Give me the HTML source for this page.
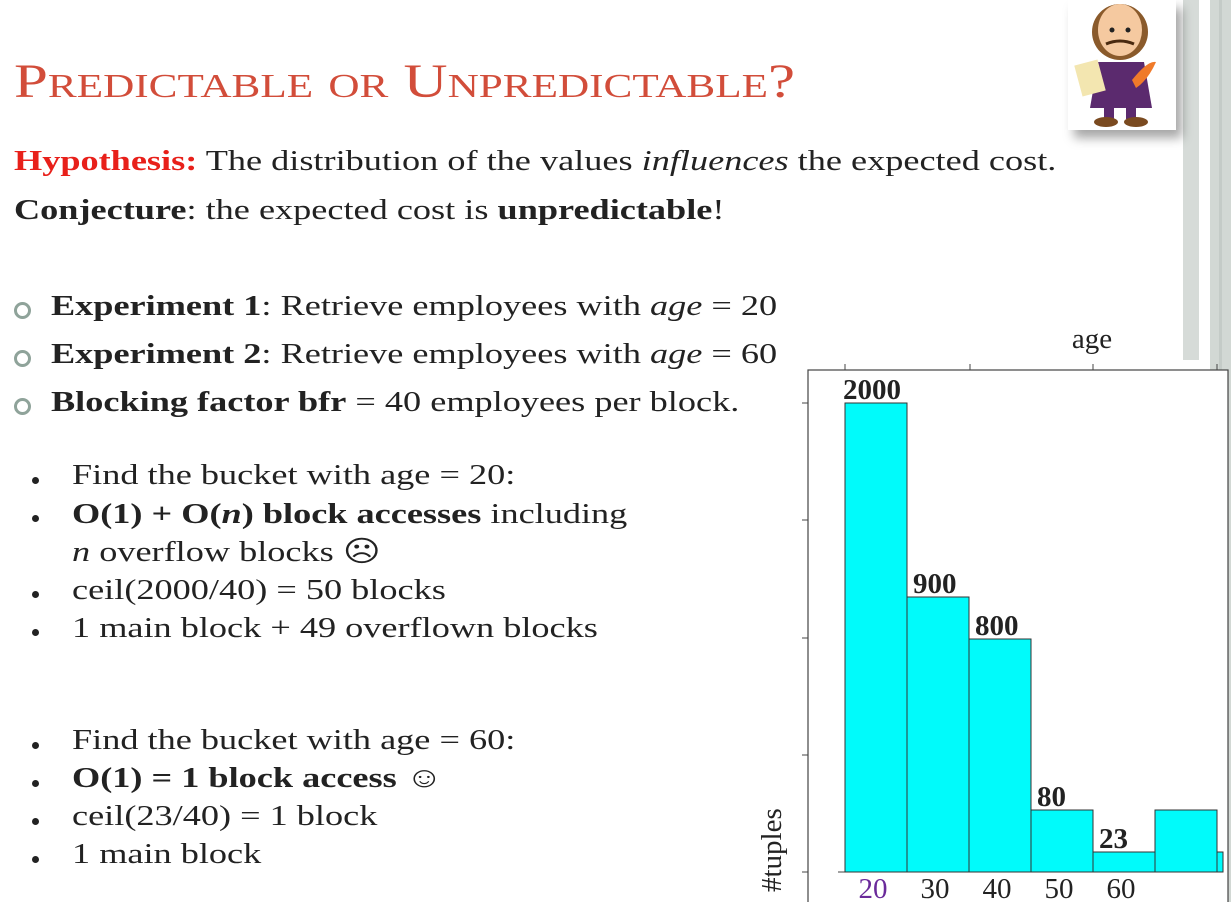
<!DOCTYPE html>
<html><head><meta charset="utf-8">
<style>
body{margin:0;width:1231px;height:902px;background:#fff;overflow:hidden;position:relative;font-family:"Liberation Serif",serif;color:#222;}
.t{position:absolute;white-space:nowrap;font-size:29px;line-height:1;transform:scaleX(1.25);transform-origin:0 0;}
.b{font-weight:bold}
.ring{position:absolute;width:11px;height:11px;border:3px solid #8fa39a;border-radius:50%;}
.dot{position:absolute;width:7px;height:7px;background:#222;border-radius:50%;}
</style></head><body>
<div style="position:absolute;left:1183px;top:0;width:16px;height:360px;background:#d6dbd8"></div>
<div style="position:absolute;left:1210px;top:0;width:21px;height:902px;background:#d2d8d4"></div>
<div style="position:absolute;left:1219px;top:0;width:3px;height:902px;background:#c4cbc7"></div>

<div style="position:absolute;left:1068px;top:0;width:108px;height:130px;background:#fff;box-shadow:6px 8px 10px rgba(0,0,0,0.35)">
<svg width="108" height="130" viewBox="0 0 108 130">
<ellipse cx="52" cy="32" rx="28" ry="28" fill="#8a5a2b"/>
<ellipse cx="52" cy="30" rx="22" ry="26" fill="#f5c9a0"/>
<circle cx="44" cy="30" r="2.5" fill="#222"/><circle cx="60" cy="30" r="2.5" fill="#222"/>
<path d="M38 44 Q52 38 66 44" stroke="#4a2a10" stroke-width="3" fill="none"/>
<path d="M30 62 L76 62 L84 108 L22 108 Z" fill="#5b2a6e"/>
<rect x="10" y="62" width="24" height="32" fill="#f3e6b0" transform="rotate(-15 22 78)"/>
<path d="M64 80 Q80 60 88 62 Q80 80 68 88Z" fill="#f07a2a"/>
<rect x="36" y="105" width="10" height="14" fill="#5b2a6e"/><rect x="58" y="105" width="10" height="14" fill="#5b2a6e"/>
<ellipse cx="38" cy="122" rx="12" ry="5" fill="#7a4a20"/><ellipse cx="68" cy="122" rx="12" ry="5" fill="#7a4a20"/>
</svg></div>

<div class="t" style="left:14px;top:58px;font-size:48px;color:#d24d3a;font-variant:small-caps;transform:scaleX(1.27);">Predictable or Unpredictable?</div>

<div class="t" style="left:14px;top:147px;"><span class="b" style="color:#e8201a">Hypothesis:</span> The distribution of the values <i>influences</i> the expected cost.</div>
<div class="t" style="left:14px;top:196px;"><span class="b">Conjecture</span>: the expected cost is <span class="b">unpredictable</span>!</div>

<div class="ring" style="left:14px;top:302px"></div>
<div class="t" style="left:51px;top:292px;"><span class="b">Experiment 1</span>: Retrieve employees with <i>age</i> = 20</div>
<div class="ring" style="left:14px;top:350px"></div>
<div class="t" style="left:51px;top:340px;"><span class="b">Experiment 2</span>: Retrieve employees with <i>age</i> = 60</div>
<div class="ring" style="left:14px;top:398px"></div>
<div class="t" style="left:51px;top:388px;"><span class="b">Blocking factor bfr</span> = 40 employees per block.</div>

<div class="dot" style="left:32px;top:477px"></div>
<div class="t" style="left:72px;top:461px;">Find the bucket with age = 20:</div>
<div class="dot" style="left:32px;top:515px"></div>
<div class="t" style="left:72px;top:500px;"><span class="b">O(1) + O(<i>n</i>) block accesses</span> including</div>
<div class="t" style="left:72px;top:538px;"><i>n</i> overflow blocks ☹</div>
<div class="dot" style="left:32px;top:591px"></div>
<div class="t" style="left:72px;top:576px;">ceil(2000/40) = 50 blocks</div>
<div class="dot" style="left:32px;top:629px"></div>
<div class="t" style="left:72px;top:614px;">1 main block + 49 overflown blocks</div>

<div class="dot" style="left:32px;top:742px"></div>
<div class="t" style="left:72px;top:726px;">Find the bucket with age = 60:</div>
<div class="dot" style="left:32px;top:780px"></div>
<div class="t" style="left:72px;top:764px;"><span class="b">O(1) = 1 block access ☺</span></div>
<div class="dot" style="left:32px;top:818px"></div>
<div class="t" style="left:72px;top:802px;">ceil(23/40) = 1 block</div>
<div class="dot" style="left:32px;top:856px"></div>
<div class="t" style="left:72px;top:840px;">1 main block</div>

<svg id="chart" style="position:absolute;left:0;top:0" width="1231" height="902"></svg>
<script>
const categories=["20","30","40","50","60",""];
const values=[2000,900,800,80,23,80];
const valueLabels=["2000","900","800","80","23",""];
const catColors=["#6a2a9a","#222","#222","#222","#222","#222"];
// piecewise scale (the original figure is not linear)
const scaleDomain=[0,23,80,800,900,2000];
const scaleRange=[872,852,810,639,597,403];
function y(v){for(let i=1;i<scaleDomain.length;i++){if(v<=scaleDomain[i]){const t=(v-scaleDomain[i-1])/(scaleDomain[i]-scaleDomain[i-1]);return scaleRange[i-1]+t*(scaleRange[i]-scaleRange[i-1]);}}return scaleRange[scaleRange.length-1];}
const x0=845,bw=62;
function x(i){return x0+i*bw;}
const svg=document.getElementById('chart');
const NS='http://www.w3.org/2000/svg';
function add(tag,attrs,text){const e=document.createElementNS(NS,tag);for(const k in attrs)e.setAttribute(k,attrs[k]);if(text!==undefined)e.textContent=text;svg.appendChild(e);return e;}
let f=add('rect',{x:808,y:370,width:420,height:540,fill:'#fff',stroke:'#444','stroke-width':1.2});


[403,520,638,755,872].forEach(v=>{let t=add('line',{x1:802,x2:808,y1:v,y2:v,stroke:'#444'});

});
[845,970,1093,1217].forEach(v=>{let t=add('line',{x1:v,x2:v,y1:364,y2:370,stroke:'#444'});

});
let bl=add('line',{x1:838,x2:1222,y1:872,y2:872,stroke:'#444'});


values.forEach((v,i)=>{
 const r=add('rect',{x:x(i),y:y(v),width:bw,height:872-y(v),fill:'#00fbfb',stroke:'#333','stroke-width':1});
 
 
 if(valueLabels[i]){const t=add('text',{x:x(i)+(i==0?-2:6),y:y(v)-4,'font-size':29,'font-weight':'bold','font-family':'Liberation Serif',fill:'#222'},valueLabels[i]);
 
 }
 if(categories[i]){const t=add('text',{x:x(i)+28,y:898,'font-size':29,'text-anchor':'middle','font-family':'Liberation Serif',fill:catColors[i]},categories[i]);
 
 }
});
let tail=add('rect',{x:1217,y:852,width:6,height:20,fill:'#00fbfb',stroke:'#333'});


let at=add('text',{x:1092,y:348,'font-size':29,'text-anchor':'middle','font-family':'Liberation Serif',fill:'#222'},'age');


let yt=add('text',{x:0,y:0,'font-size':29,'font-family':'Liberation Serif',fill:'#222',transform:'translate(781,892) rotate(-90)'},'#tuples');


</script>
</body></html>
